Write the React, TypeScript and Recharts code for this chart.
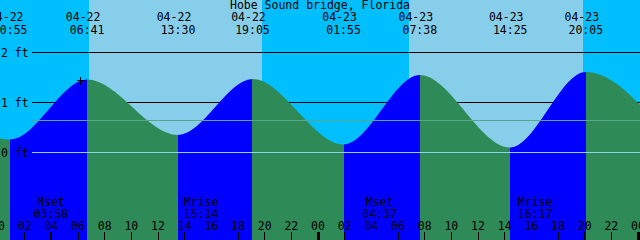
import React from 'react';
import {
  ComposedChart,
  Area,
  XAxis,
  YAxis,
  ReferenceArea,
  ReferenceLine,
  Scatter,
} from 'recharts';

const title = 'Hobe Sound bridge, Florida';

// tide turns; the first and last are off the picture and only shape the ends
const tideDates = ['04-21', '04-22', '04-22', '04-22', '04-22', '04-23', '04-23', '04-23', '04-23', '04-24'];
const tideTimes = ['18:10', '00:55', '06:41', '13:30', '19:05', '01:55', '07:38', '14:25', '20:05', '03:00'];
const tideLevels = [1.45, 0.26, 1.46, 0.35, 1.47, 0.16, 1.55, 0.1, 1.61, 0.03];

// sunrise, sunset, sunrise, sunset
const sunDates = ['04-22', '04-22', '04-23', '04-23'];
const sunTimes = ['06:50', '19:48', '06:50', '19:52'];

const moonDates = ['04-22', '04-22', '04-23', '04-23'];
const moonTimes = ['03:58', '15:14', '04:37', '16:17'];
const moonKinds = ['Mset', 'Mrise', 'Mset', 'Mrise'];

const hourTicks = [0, 2, 4, 6, 8, 10, 12, 14, 16, 18, 20, 22, 24, 26, 28, 30, 32, 34, 36, 38, 40, 42, 44, 46, 48];
const levelTicks = [0, 1, 2];
const depthLines = [1, 2];
const meanLevel = 0.64;
const nowMark = { date: '04-22', time: '06:13', level: 1.44 };

const startHour = 0.15;
const endHour = 48.15;
const lineStartHour = 2.55;

const nightColor = '#00BFFF';
const dayColor = '#87CEEB';
const riseColor = '#0000FF';
const fallColor = '#2E8B57';

const font = { fontFamily: '"DejaVu Sans Mono", monospace', fontSize: 11.5 };

const toHours = (date: string, time: string) => {
  const day = parseInt(date.slice(3), 10) - 22;
  const [h, m] = time.split(':').map(Number);
  return day * 24 + h + m / 60;
};

const tideData = tideTimes.map((tm, i) => ({ t: toHours(tideDates[i], tm), h: tideLevels[i] }));
const sunHours = sunTimes.map((tm, i) => toHours(sunDates[i], tm));
const skyEdges = [startHour, ...sunHours, endHour];

const tideLabels = tideData
  .map((d, i) => ({ t: d.t, date: tideDates[i], time: tideTimes[i] }))
  .filter((d) => d.t >= startHour && d.t <= endHour);
const moonEvents = moonTimes.map((tm, i) => ({ t: toHours(moonDates[i], tm), kind: moonKinds[i], time: tm }));
const bottomTicks = [...hourTicks, ...moonEvents.map((m) => m.t)].sort((a, b) => a - b);

const first = tideData[0].t;
const span = tideData[tideData.length - 1].t - first;

const BottomTick = (props: any) => {
  const { x, y, payload } = props;
  const v = payload.value;
  const moon = moonEvents.find((m) => Math.abs(m.t - v) < 1e-6);
  if (moon) {
    return (
      <g>
        <line x1={x} y1={y} x2={x} y2={y + 8} stroke="#000" shapeRendering="crispEdges" />
        <text x={x} y={y - 26} textAnchor="middle" fill="#000" style={font}>
          {moon.kind}
        </text>
        <text x={x} y={y - 14.5} textAnchor="middle" fill="#000" style={font}>
          {moon.time}
        </text>
      </g>
    );
  }
  const hour = v % 24;
  return (
    <g>
      <line x1={x} y1={y} x2={x} y2={y + 8} stroke="#000" shapeRendering="crispEdges" />
      {hour === 0 && <rect x={x - 1} y={y} width={3} height={8} fill="#000" />}
      <text x={x} y={y - 2.5} textAnchor="middle" fill="#000" style={font}>
        {String(hour).padStart(2, '0')}
      </text>
    </g>
  );
};

const TideTick = (props: any) => {
  const { x, y, payload } = props;
  const ev = tideLabels.find((m) => Math.abs(m.t - payload.value) < 1e-6);
  return (
    <g>
      <text x={x - 4} y={y + 21} textAnchor="middle" fill="#000" style={font}>
        {ev ? ev.date : ''}
      </text>
      <text x={x} y={y + 34} textAnchor="middle" fill="#000" style={font}>
        {ev ? ev.time : ''}
      </text>
    </g>
  );
};

const Cross = (props: any) => {
  const { cx, cy } = props;
  return (
    <g>
      <line x1={cx - 4} y1={cy} x2={cx + 4} y2={cy} stroke="#000" shapeRendering="crispEdges" />
      <line x1={cx} y1={cy - 4} x2={cx} y2={cy + 4} stroke="#000" shapeRendering="crispEdges" />
    </g>
  );
};

export default function App() {
  const stops: React.ReactNode[] = [];
  for (let i = 0; i < tideData.length - 1; i++) {
    const c = tideData[i + 1].h > tideData[i].h ? riseColor : fallColor;
    stops.push(<stop key={`a${i}`} offset={(tideData[i].t - first) / span} stopColor={c} />);
    stops.push(<stop key={`b${i}`} offset={(tideData[i + 1].t - first) / span} stopColor={c} />);
  }

  return (
    <div style={{ position: 'absolute', left: 0, top: 0, width: 640, height: 240 }}>
      <ComposedChart width={640} height={240} data={tideData} margin={{ top: 0, right: 0, bottom: 0, left: 0 }}>
        <defs>
          <linearGradient id="tideFill" x1="0" y1="0" x2="1" y2="0">
            {stops}
          </linearGradient>
        </defs>
        <XAxis
          dataKey="t"
          type="number"
          domain={[startHour, endHour]}
          allowDataOverflow
          ticks={bottomTicks}
          interval={0}
          mirror
          height={30}
          tickSize={8}
          tickMargin={0}
          tickLine={false}
          axisLine={false}
          tick={BottomTick}
        />
        <XAxis
          xAxisId="tides"
          dataKey="t"
          orientation="top"
          type="number"
          domain={[startHour, endHour]}
          allowDataOverflow
          ticks={tideLabels.map((m) => m.t)}
          interval={0}
          mirror
          height={30}
          tickSize={0}
          tickMargin={0}
          tickLine={false}
          axisLine={false}
          tick={TideTick}
          label={{ value: title, position: 'insideTop', offset: 1.3, fill: '#000', ...font }}
        />
        <YAxis
          type="number"
          domain={[-1.75, 3.05]}
          allowDataOverflow
          ticks={levelTicks}
          interval={0}
          mirror
          width={30}
          tickSize={0}
          tickMargin={1}
          tickLine={false}
          axisLine={false}
          tickFormatter={(v: number) => `${v} ft`}
          tick={{ fill: '#000', ...font }}
        />
        {skyEdges.slice(0, -1).map((x1, i) => (
          <ReferenceArea
            key={`sky${i}`}
            x1={x1}
            x2={skyEdges[i + 1]}
            fill={i % 2 === 0 ? nightColor : dayColor}
            fillOpacity={1}
            stroke="none"
            shapeRendering="crispEdges"
          />
        ))}
        {depthLines.map((d) => (
          <Area
            key={`d${d}`}
            data={[{ t: lineStartHour, v: d }, { t: endHour, v: d }]}
            dataKey="v"
            type="linear"
            stroke="#000"
            strokeWidth={1}
            fill="none"
            dot={false}
            activeDot={false}
            isAnimationActive={false}
          />
        ))}
        <Area
          dataKey="h"
          type="monotone"
          stroke="none"
          fill="url(#tideFill)"
          fillOpacity={1}
          baseValue="dataMin"
          dot={false}
          activeDot={false}
          isAnimationActive={false}
        />
        <ReferenceLine
          segment={[{ x: lineStartHour, y: meanLevel }, { x: endHour, y: meanLevel }]}
          stroke="#5AA68A"
        />
        <ReferenceLine segment={[{ x: lineStartHour, y: 0 }, { x: endHour, y: 0 }]} stroke="#8ED2EC" />
        <Scatter
          data={[{ t: toHours(nowMark.date, nowMark.time), h: nowMark.level }]}
          dataKey="h"
          shape={Cross}
          activeShape={Cross}
          isAnimationActive={false}
        />
      </ComposedChart>
    </div>
  );
}
